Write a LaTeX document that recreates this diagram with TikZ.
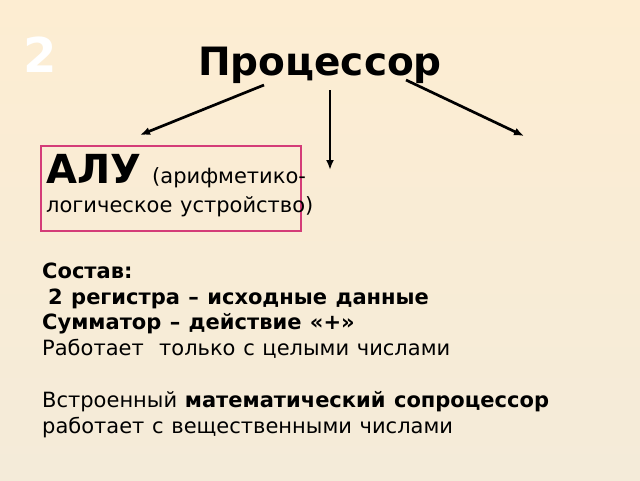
\documentclass[tikz,border=0pt]{standalone}
\usepackage{fontspec}
\setmainfont[WordSpace=1.15]{DejaVu Sans}
\usetikzlibrary{arrows.meta}

\definecolor{bgtop}{RGB}{253,237,210}
\definecolor{bgbottom}{RGB}{244,235,217}
\definecolor{alupink}{RGB}{212,60,120}

\tikzset{
  arrowline/.style={-{Latex[length=10pt,width=8pt]},line width=2.7pt},
  plain/.style={anchor=base west,inner sep=0pt},
  bodyfont/.style={font=\fontsize{21}{25.8}\selectfont},
}

\begin{document}
\begin{tikzpicture}[x=1pt,y=-1pt]
\shade[top color=bgtop,bottom color=bgbottom] (0,0) rectangle (640,480);
\useasboundingbox (0,0) rectangle (640,480);

\node[plain,text=white,font=\fontsize{48}{48}\bfseries\selectfont] (num) at (23,72) {2};
\node[anchor=base,inner sep=0pt,font=\fontsize{39}{40}\bfseries\selectfont] (title) at (320,75) {Процессор};

% arrows out of the title
\coordinate (fromleft) at (264,85);
\coordinate (toleft) at (140,135);
\coordinate (frommid) at (330,90);
\coordinate (tomid) at (330,170);
\coordinate (fromright) at (406,80);
\coordinate (toright) at (524,136);
\draw[arrowline] (fromleft) -- (toleft);
\draw[arrowline] (frommid) -- (tomid);
\draw[arrowline] (fromright) -- (toright);

% ALU box
\node[draw=alupink,line width=1.5pt,minimum width=260pt,minimum height=85pt,
      anchor=north west,inner sep=0pt] (alubox) at (40,145) {};
\node[plain] (alu) at (46,183)
  {\fontsize{40}{40}\bfseries\selectfont АЛУ\fontsize{21}{24}\mdseries\selectfont\hspace{11pt}(арифметико-};
\node[plain,font=\fontsize{21}{24}\selectfont] (alunote) at (46,212) {логическое устройство)};

% contents (base = last line)
\node[plain,bodyfont,align=left] (parts) at (42,433)
  {\textbf{Состав:}\\
   \hspace{6pt}\textbf{2 регистра – исходные данные}\\
   \textbf{Сумматор – действие «+»}\\
   Работает\ \ только с целыми числами\\[25.8pt]
   Встроенный \textbf{математический сопроцессор}\\
   работает с вещественными числами};
\end{tikzpicture}
\end{document}
